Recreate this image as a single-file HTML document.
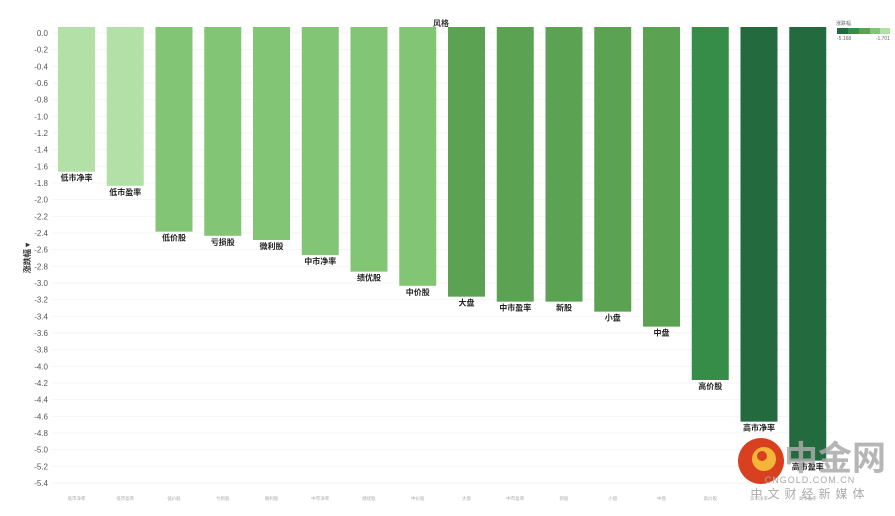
<!DOCTYPE html>
<html><head><meta charset="utf-8"><style>
body{margin:0;background:#fff;font-family:"Liberation Sans","Noto Sans CJK SC",sans-serif}
svg text{font-family:"Liberation Sans","Noto Sans CJK SC",sans-serif}
</style></head><body>
<svg id="c" width="895" height="511" xmlns="http://www.w3.org/2000/svg">
<g id="grid"></g>
<g id="yax"></g>
<g id="bars"></g>
<g id="xax"></g>
<text x="441" y="26" font-size="8" text-anchor="middle" fill="#333" font-weight="bold">风格</text>
<text transform="translate(30,258) rotate(-90)" font-size="8" text-anchor="middle" fill="#333" font-weight="bold">涨跌幅 ▾</text>
<g>
<text x="836" y="25" font-size="5" fill="#666">涨跌幅</text>
<rect x="837" y="28" width="11" height="6" fill="#236b3e"/>
<rect x="848" y="28" width="11" height="6" fill="#368d47"/>
<rect x="859" y="28" width="11" height="6" fill="#5ba352"/>
<rect x="870" y="28" width="10" height="6" fill="#82c675"/>
<rect x="880" y="28" width="10" height="6" fill="#b3e0a6"/>
<text x="837" y="40" font-size="5" fill="#666">-5.168</text>
<text x="890" y="40" font-size="5" fill="#666" text-anchor="end">-1.701</text>
</g>
<g id="bars2"></g>
<g>
<circle cx="761" cy="461" r="23" fill="#d8401f"/>
<circle cx="764" cy="459" r="12" fill="#f5b43a"/>
<circle cx="762" cy="456" r="5" fill="#d8401f"/>
<text x="835" y="470" font-size="34" font-weight="bold" fill="#aaa" text-anchor="middle" opacity="0.85">中金网</text>
<text x="810" y="483" font-size="9" fill="#aaa" text-anchor="middle" letter-spacing="1">CNGOLD.COM.CN</text>
<text x="810" y="498" font-size="12" fill="#aaa" text-anchor="middle" letter-spacing="5">中文财经新媒体</text>
</g>
</svg>
<script>
const categories=["低市净率","低市盈率","低价股","亏损股","微利股","中市净率","绩优股","中价股","大盘","中市盈率","新股","小盘","中盘","高价股","高市净率","高市盈率"];
const values=[-1.701,-1.87,-2.42,-2.47,-2.52,-2.7,-2.9,-3.07,-3.2,-3.26,-3.26,-3.38,-3.56,-4.2,-4.7,-5.168];
const yTicks=[0,-0.2,-0.4,-0.6,-0.8,-1,-1.2,-1.4,-1.6,-1.8,-2,-2.2,-2.4,-2.6,-2.8,-3,-3.2,-3.4,-3.6,-3.8,-4,-4.2,-4.4,-4.6,-4.8,-5,-5.2,-5.4];
const NS="http://www.w3.org/2000/svg";
const y=v=>33+(-v)*83.33;
const x0=58,step=48.75,bw=37;
const xs=i=>x0+i*step;
function col(v){if(v>-2)return"#b3e0a6";if(v>-3.1)return"#82c675";if(v>-3.9)return"#5ba352";if(v>-4.5)return"#368d47";return"#236b3e";}
function mk(t,a,p){const e=document.createElementNS(NS,t);for(const k in a)e.setAttribute(k,a[k]);document.getElementById(p).appendChild(e);return e;}
yTicks.forEach(t=>{
 const g=mk("line",{x1:52,x2:832,y1:y(t),y2:y(t),stroke:"#f5f5f5"},"grid");
 
 
 const l=mk("text",{x:48,y:y(t)+3,"font-size":8,fill:"#555","text-anchor":"end"},"yax");
 l.textContent=t.toFixed(1);
 
 
});
categories.forEach((c,i)=>{
 const top=27,b=y(values[i])-3;
 const r=mk("rect",{x:xs(i),y:top,width:bw,height:b-top,fill:col(values[i])},"bars");
 
 
 const t=mk("text",{x:xs(i)+bw/2,y:b+9,"font-size":8,"font-weight":"bold",fill:"#222","text-anchor":"middle"},"bars2");
 t.textContent=c;
 
 
 const xl=mk("text",{x:xs(i)+bw/2,y:500,"font-size":4.5,fill:"#aaa","text-anchor":"middle"},"xax");
 xl.textContent=c;
 
 
});
</script>
</body></html>
